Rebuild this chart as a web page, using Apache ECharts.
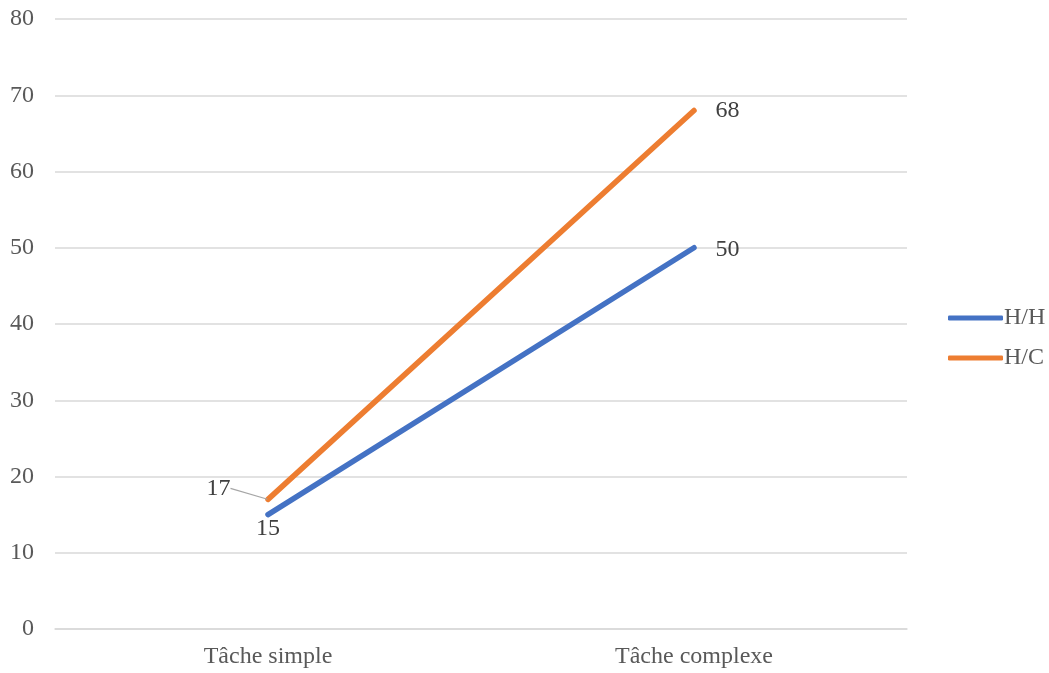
<!DOCTYPE html>
<html>
<head>
<meta charset="utf-8">
<script src="https://cdn.jsdelivr.net/npm/echarts@6/dist/echarts.min.js"></script>
<style>
  html, body { margin: 0; padding: 0; background: #fff; }
  #main { width: 1049px; height: 673px; }
</style>
</head>
<body>
<div id="main"></div>
<script>
// données
var categories = ['Tâche simple', 'Tâche complexe'];
var serieHH = [15, 50];
var serieHC = [17, 68];
var yTicks = { min: 0, max: 80, interval: 10 };

var police = 'Liberation Serif';
var gris = '#595959';

var myChart = echarts.init(document.getElementById('main'));

// position des étiquettes par point
var posHH = ['bottom', 'right'];
var posHC = ['left', 'right'];

var option = {
  backgroundColor: '#fff',
  color: ['#4472C4', '#ED7D31'],
  textStyle: { fontFamily: police },
  grid: { left: 55, right: 142, top: 19, bottom: 44, containLabel: false },
  legend: {
    orient: 'vertical',
    left: 943,
    top: 301,
    icon: 'roundRect',
    itemWidth: 55,
    itemHeight: 5,
    itemGap: 16,
    textStyle: { fontFamily: police, fontSize: 24, color: gris, padding: [0, 0, 0, -4] },
    data: ['H/H', 'H/C']
  },
  xAxis: {
    type: 'category',
    data: categories,
    boundaryGap: true,
    axisLine: { lineStyle: { color: '#d9d9d9', width: 1.5 } },
    axisTick: { show: false },
    axisLabel: { fontFamily: police, fontSize: 24, color: gris, margin: 16 }
  },
  yAxis: {
    type: 'value',
    min: yTicks.min,
    max: yTicks.max,
    interval: yTicks.interval,
    axisLine: { show: false },
    axisTick: { show: false },
    splitLine: { lineStyle: { color: '#d9d9d9', width: 1.5 } },
    axisLabel: { fontFamily: police, fontSize: 24, color: gris, margin: 21 }
  },
  series: [
    {
      name: 'H/H',
      type: 'line',
      data: serieHH.map(function (v, i) {
        return {
          value: v,
          label: { position: posHH[i], distance: i === 0 ? 2 : 21, offset: i === 0 ? [0, 0] : [0, 2] }
        };
      }),
      symbol: 'circle',
      symbolSize: 1,
      lineStyle: { width: 5.5, cap: 'round' },
      label: {
        show: true,
        fontFamily: police,
        fontSize: 24,
        color: '#404040'
      },
      z: 2
    },
    {
      name: 'H/C',
      type: 'line',
      data: serieHC.map(function (v, i) {
        return {
          value: v,
          label: { position: posHC[i], distance: i === 0 ? 37 : 21, offset: i === 0 ? [0, 0] : [0, 2] },
          labelLine: { show: i === 0 }
        };
      }),
      symbol: 'circle',
      symbolSize: 1,
      lineStyle: { width: 5.5, cap: 'round' },
      label: {
        show: true,
        fontFamily: police,
        fontSize: 24,
        color: '#404040'
      },
      labelLine: {
        show: true,
        lineStyle: { color: '#a6a6a6', width: 1.2 }
      },
      labelLayout: function (p) {
        if (p.dataIndex === 0) return { dy: -11 };
        return {};
      },
      z: 3
    }
  ]
};

myChart.setOption(option);
window.onresize = myChart.resize;
</script>
</body>
</html>
